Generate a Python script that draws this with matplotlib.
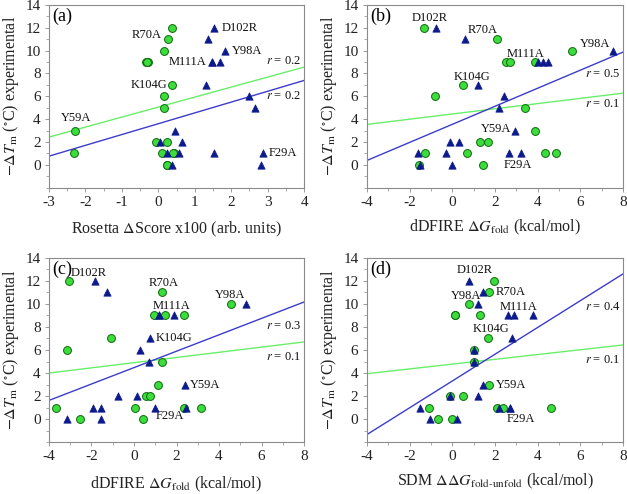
import matplotlib
matplotlib.use("Agg")
import matplotlib.pyplot as plt
from matplotlib.ticker import MultipleLocator

plt.rcParams['font.family'] = ['Liberation Serif', 'DejaVu Serif']
plt.rcParams['mathtext.fontset'] = 'stix'

# ---- data ----
# (a) Rosetta
a_green_x = [0.37, 0.26, 0.15, -0.33, -0.27, -0.30, 0.37, 0.17, 0.15, -2.29, -2.32, -0.05, 0.23, 0.10, 0.42, 0.40, 0.23, 0.25]
a_green_y = [12, 11, 10, 9, 9, 9, 7, 6, 5, 3, 1, 2, 2, 1, 1, 1, 0, 0]
a_blue_x = [1.53, 1.37, 1.83, 1.48, 1.68, 1.48, 1.31, 2.50, 2.65, 0.45, 0.04, 0.66, 0.24, 0.58, 1.53, 2.88, 0.39, 2.83]
a_blue_y = [12, 11, 10, 9, 9, 9, 7, 6, 5, 3, 2, 2, 1, 1, 1, 1, 0, 0]
a_green_fit = [(-3, 2.43), (4, 8.56)]
a_blue_fit = [(-3, 0.76), (4, 7.39)]

# (b) dDFIRE
b_green_x = [-1.34, 2.09, 5.58, 2.53, 2.69, 3.89, 0.50, -0.81, 3.42, 3.89, 1.28, 1.69, -1.27, 0.70, 4.33, 4.86, -1.58, 1.44]
b_green_y = [12, 11, 10, 9, 9, 9, 7, 6, 5, 3, 2, 2, 1, 1, 1, 1, 0, 0]
b_blue_x = [-0.75, 0.58, 7.50, 4.02, 4.25, 4.48, 1.20, 2.42, 2.19, 2.95, -0.09, 0.33, -1.61, -0.31, 2.64, 3.20, -1.53, 0.00]
b_blue_y = [12, 11, 10, 9, 9, 9, 7, 6, 5, 3, 2, 2, 1, 1, 1, 1, 0, 0]
b_green_fit = [(-4, 3.54), (8, 6.28)]
b_blue_fit = [(-4, 0.38), (8, 9.88)]

# (c) dDFIRE
c_green_x = [-3.06, 1.33, 4.55, 0.95, 1.48, 2.33, -1.09, -3.17, 1.33, 1.14, 0.58, 0.77, -3.66, 0.03, 2.33, 3.16, -2.52, 0.41]
c_green_y = [12, 11, 10, 9, 9, 9, 7, 6, 5, 3, 2, 2, 1, 1, 1, 1, 0, 0]
c_blue_x = [-1.83, -1.25, 5.27, 1.16, 1.89, 1.16, 0.77, 0.30, 0.73, 2.38, -0.75, 0.13, -1.94, -1.55, 0.98, 2.45, -3.17, -1.55]
c_blue_y = [12, 11, 10, 9, 9, 9, 7, 6, 5, 3, 2, 2, 1, 1, 1, 1, 0, 0]
c_green_fit = [(-4, 4.0), (8, 6.70)]
c_blue_fit = [(-4, 1.62), (8, 10.17)]

# (d) SDM
d_green_x = [1.94, 1.73, 0.78, 0.14, 1.28, 0.14, 1.66, 1.03, 1.03, 1.72, -0.09, 0.52, -1.11, 2.11, 2.36, 4.64, -0.69, -0.03]
d_green_y = [12, 11, 10, 9, 9, 9, 7, 6, 5, 3, 2, 2, 1, 1, 1, 1, 0, 0]
d_blue_x = [0.78, 1.44, 1.20, 2.61, 2.88, 3.80, 2.80, 1.03, 1.03, 1.45, -0.09, 1.20, -1.53, 2.17, 2.69, 2.69, -1.03, 0.22]
d_blue_y = [12, 11, 10, 9, 9, 9, 7, 6, 5, 3, 2, 2, 1, 1, 1, 1, 0, 0]
d_green_fit = [(-4, 3.94), (8, 6.44)]
d_blue_fit = [(-4, -1.35), (8, 12.62)]

mutants = ["D102R", "R70A", "Y98A", "M111A", "K104G", "Y59A", "F29A"]

# label positions (x, y, ha) per panel, same order as mutants
a_labels = [(1.74, 12, 'left'), (0.10, 11.4, 'right'), (2.01, 10, 'left'), (1.33, 9, 'right'),
            (0.24, 7, 'right'), (-2.25, 4.1, 'center'), (3.04, 1, 'left')]
b_labels = [(-1.06, 12.9, 'center'), (1.41, 11.8, 'center'), (6.70, 10.55, 'center'), (3.44, 9.7, 'center'),
            (0.92, 7.7, 'center'), (2.06, 3.1, 'center'), (3.09, -0.05, 'center')]
c_labels = [(-2.98, 12.7, 'left'), (1.39, 11.8, 'center'), (4.53, 10.75, 'center'), (1.78, 9.8, 'center'),
            (1.03, 7.0, 'left'), (2.61, 3.0, 'left'), (1.70, 0.3, 'center')]
d_labels = [(1.05, 12.95, 'center'), (2.02, 11.0, 'left'), (0.63, 10.7, 'center'), (3.11, 9.75, 'center'),
            (1.80, 7.8, 'center'), (2.02, 3.0, 'left'), (3.19, 0.0, 'center')]

a_r = [("0.2", 9.1), ("0.2", 6.0)]
b_r = [("0.5", 7.95), ("0.1", 5.3)]
c_r = [("0.3", 8.1), ("0.1", 5.4)]
d_r = [("0.4", 9.75), ("0.1", 5.1)]

ylab = r'$-\Delta\mathit{T}_{\mathrm{m}}$ ($^{\circ}$C) experimental'
xlab_a = r'Rosetta $\Delta$Score x100 (arb. units)'
xlab_b = r'dDFIRE $\Delta\mathit{G}_{\mathrm{fold}}$ (kcal/mol)'
xlab_d = r'SDM $\Delta\Delta\mathit{G}_{\mathrm{fold\text{-}unfold}}$ (kcal/mol)'

GREEN = '#3ddc3d'
GREEN_EDGE = '#0a6a0a'
GREEN_LINE = '#6aee6a'
BLUE = '#0c1a8c'
BLUE_LINE = '#3c3ccc'
GRAY = '#8a8a8a'

fig = plt.figure(figsize=(6.27, 4.94), dpi=100)

panels = [
    ("(a)", [0.078, 0.620, 0.407, 0.370], (-3, 4), 1, 0.5, a_green_x, a_green_y, a_blue_x, a_blue_y,
     a_green_fit, a_blue_fit, a_labels, a_r, xlab_a, 8),
    ("(b)", [0.585, 0.620, 0.409, 0.370], (-4, 8), 2, 1, b_green_x, b_green_y, b_blue_x, b_blue_y,
     b_green_fit, b_blue_fit, b_labels, b_r, xlab_b, 6),
    ("(c)", [0.078, 0.105, 0.407, 0.373], (-4, 8), 2, 1, c_green_x, c_green_y, c_blue_x, c_blue_y,
     c_green_fit, c_blue_fit, c_labels, c_r, xlab_b, 8),
    ("(d)", [0.585, 0.105, 0.409, 0.373], (-4, 8), 2, 1, d_green_x, d_green_y, d_blue_x, d_blue_y,
     d_green_fit, d_blue_fit, d_labels, d_r, xlab_d, 6),
]

for (tag, rect, xlim, xmaj, xmin, gx, gy, bx, by, gfit, bfit, labels, rtxt, xlab, lpad) in panels:
    ax = fig.add_axes(rect)
    ax.plot([p[0] for p in gfit], [p[1] for p in gfit], color=GREEN_LINE, lw=1.0, zorder=2)
    ax.plot([p[0] for p in bfit], [p[1] for p in bfit], color=BLUE_LINE, lw=1.0, zorder=2)
    ax.scatter(gx, gy, s=32, marker='o', facecolor=GREEN, edgecolor=GREEN_EDGE, linewidth=0.7, zorder=3)
    ax.scatter(bx, by, s=28, marker='^', facecolor=BLUE, edgecolor=BLUE, linewidth=0.5, zorder=4)
    ax.set_xlim(*xlim)
    ax.set_ylim(-2, 14)
    ax.xaxis.set_major_locator(MultipleLocator(xmaj))
    ax.xaxis.set_minor_locator(MultipleLocator(xmin))
    ax.yaxis.set_minor_locator(MultipleLocator(1))
    ax.set_yticks([0, 2, 4, 6, 8, 10, 12, 14])
    ax.tick_params(which='major', direction='out', length=3, width=0.6, color=GRAY,
                   labelsize=11, labelcolor='#222222', pad=3)
    ax.tick_params(which='minor', direction='out', length=2, width=0.5, color=GRAY)
    for sp in ax.spines.values():
        sp.set_color(GRAY)
        sp.set_linewidth(0.8)
    xt = ax.get_xticks()
    ax.set_xticks(xt)
    ax.set_xticklabels(['%d' % v if v >= 0 else '-%d' % abs(v) for v in xt])
    ax.set_xlim(*xlim)
    ax.set_yticklabels(['%d' % v for v in ax.get_yticks()])
    ax.set_xlabel(xlab, fontsize=11.5, color='#222222', labelpad=lpad)
    ax.set_ylabel(ylab, fontsize=11.5, color='#222222', labelpad=3)
    ax.text(0.012, 0.985, tag, transform=ax.transAxes, fontsize=13, va='top', ha='left')
    for name, (lx, ly, ha) in zip(mutants, labels):
        ax.text(lx, ly, name, fontsize=9, ha=ha, va='center', color='#111111')
    x_r = xlim[1] - 0.012 * (xlim[1] - xlim[0])
    for val, ry in rtxt:
        ax.text(x_r, ry, r'$r$ = ' + val, fontsize=9, ha='right', va='center', color='#111111')

fig.savefig("out.png", dpi=100)
